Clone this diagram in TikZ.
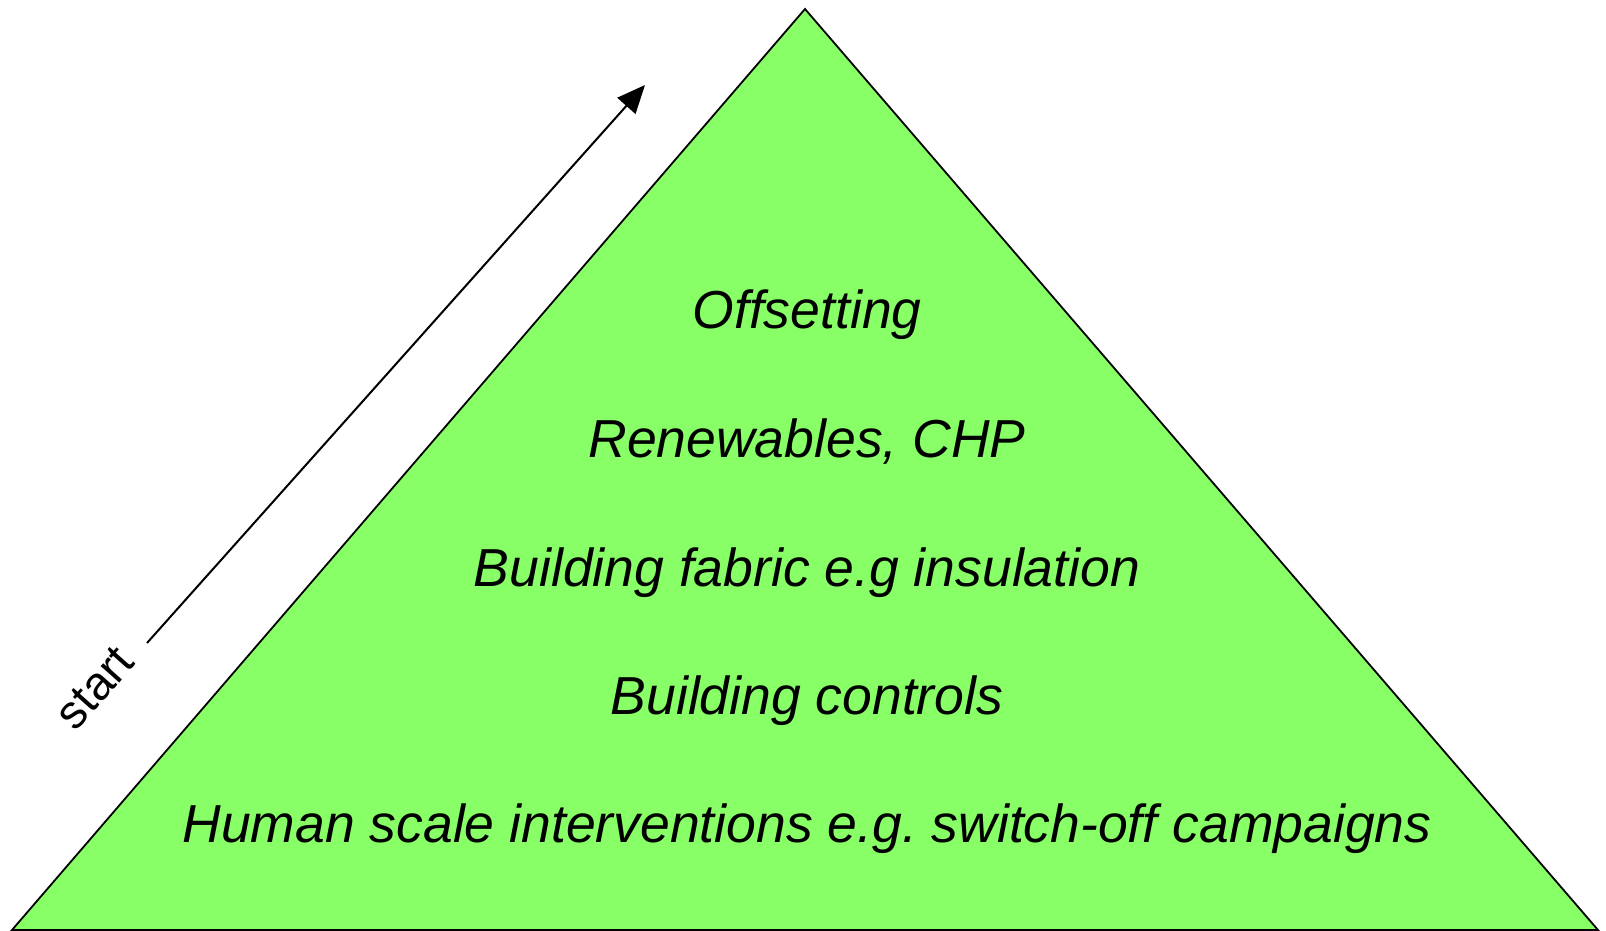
\documentclass[tikz,border=0pt]{standalone}
\usepackage{fontspec}
\setmainfont{Liberation Sans}
\usetikzlibrary{arrows.meta}
\definecolor{pyr}{RGB}{136,255,102}
\frenchspacing
\tikzset{
  level/.style={anchor=base, font=\fontsize{53.5}{60}\selectfont\itshape, inner sep=0pt},
  edge/.style={draw=black, line width=1.8pt, line join=miter},
}
\begin{document}
\begin{tikzpicture}[x=1pt,y=-1pt]
\useasboundingbox (0,0) rectangle (1606,931);
% pyramid
\coordinate (apex) at (805,9);
\coordinate (bl) at (12,930);
\coordinate (br) at (1598,930);
\draw[edge, fill=pyr] (apex) -- (bl) -- (br) -- cycle;
% levels, top to bottom
\node[level] (l1) at (807,328) {Offsetting};
\node[level] (l2) at (807,457) {Renewables, CHP};
\node[level] (l3) at (807,586) {Building fabric e.g insulation};
\node[level] (l4) at (807,714) {Building controls};
\node[level] (l5) at (807,842) {Human scale interventions e.g. switch-off campaigns};
% direction arrow
\coordinate (tail) at (147,643);
\coordinate (head) at (645,85);
\draw[line width=2pt, -{Triangle[length=28pt,width=24pt]}] (tail) -- (head);
\node[rotate=48.3, font=\fontsize{47}{52}\selectfont, inner sep=0pt] (st) at (95,688) {start};
\end{tikzpicture}
\end{document}
